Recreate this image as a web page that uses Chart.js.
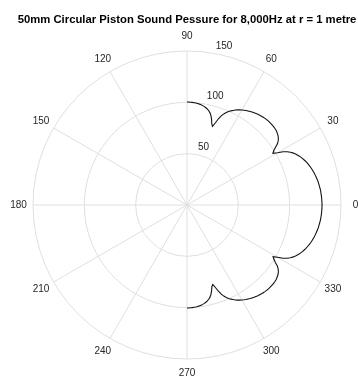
<!DOCTYPE html>
<html>
<head>
<meta charset="utf-8">
<script src="https://cdn.jsdelivr.net/npm/chart.js@4/dist/chart.umd.min.js"></script>
<style>
  html, body { margin: 0; padding: 0; background: #ffffff; }
  #wrap { width: 358px; height: 376px; }
</style>
</head>
<body>
<div id="wrap"><canvas id="c" width="358" height="376"></canvas></div>
<script>
const titleText = '50mm Circular Piston Sound Pessure for 8,000Hz at r = 1 metre';

// Sound pressure level (dB) for bearings 0°, 1°, 2° ... 90° (above the axis)
const levelUpper = [
  131.5, 131.5, 131.4, 131.3, 131.2, 131.0, 130.9, 130.6, 130.3, 130.0,
  129.7, 129.3, 128.8, 128.3, 127.8, 127.2, 126.6, 125.9, 125.1, 124.2,
  123.3, 122.3, 121.2, 120.0, 118.6, 117.1, 115.3, 113.1, 110.5, 107.0,
  101.8, 97.6, 99.6, 102.5, 106.1, 108.4, 110.0, 111.2, 112.0, 112.7,
  113.2, 113.5, 113.7, 113.9, 113.9, 113.9, 113.8, 113.7, 113.5, 113.2,
  112.9, 112.5, 112.1, 111.6, 111.1, 110.5, 109.9, 109.2, 108.5, 107.7,
  106.8, 105.9, 104.9, 103.8, 102.5, 101.2, 99.6, 97.8, 95.7, 93.0,
  89.4, 84.5, 80.5, 82.5, 86.8, 90.2, 92.5, 94.2, 95.5, 96.5,
  97.3, 98.0, 98.5, 99.0, 99.4, 99.7, 99.9, 100.1, 100.2, 100.3,
  100.3
];

// Sound pressure level (dB) for bearings -1°, -2° ... -90° (below the axis)
const levelLower = [
  131.5, 131.4, 131.3, 131.2, 131.0, 130.9, 130.6, 130.3, 130.0,
  129.7, 129.3, 128.8, 128.3, 127.8, 127.2, 126.6, 125.9, 125.1, 124.2,
  123.3, 122.3, 121.2, 120.0, 118.6, 117.1, 115.3, 113.1, 110.5, 107.0,
  101.8, 97.8, 99.8, 102.5, 106.1, 108.4, 110.0, 111.2, 112.0, 112.7,
  113.2, 113.5, 113.7, 113.9, 113.9, 113.9, 113.8, 113.7, 113.5, 113.2,
  112.9, 112.5, 112.1, 111.6, 111.1, 110.5, 109.9, 109.2, 108.5, 107.7,
  106.8, 105.9, 104.9, 103.8, 102.5, 101.2, 99.6, 97.8, 95.7, 93.0,
  89.4, 85.0, 81.5, 83.0, 86.8, 90.2, 92.5, 94.2, 95.5, 96.5,
  97.3, 98.0, 98.5, 99.0, 99.4, 99.7, 99.9, 100.1, 100.2, 100.3,
  100.3
];

const angleTickLabels = ['0', '30', '60', '90', '120', '150', '180', '210', '240', '270', '300', '330'];
const radialTicks = [50, 100, 150];
const radialMax = 150;
const radialLabelBearing = 80;

const gridColor = '#dfdfdf';
const textColor = '#262626';
const fontFamily = '"Liberation Sans", Arial, Helvetica, sans-serif';

// One radar spoke per degree; spoke 0 points up (90°) and spokes run clockwise,
// so spoke i carries the bearing 90 - i (counter-clockwise from the right).
const spokeCount = 360;
const bearingOfSpoke = i => ((90 - i) % 360 + 360) % 360;
const spokeOfBearing = b => ((90 - b) % 360 + 360) % 360;
const spokeLabels = Array.from({ length: spokeCount }, (_, i) => String(bearingOfSpoke(i)));

const levels = new Array(spokeCount).fill(null);
levelUpper.forEach((v, k) => { levels[spokeOfBearing(k)] = v; });
levelLower.forEach((v, k) => { levels[spokeOfBearing(-(k + 1))] = v; });

// Bearing labels around the rim and radius labels along the 80° spoke
const polarLabels = {
  id: 'polarLabels',
  afterDraw(chart) {
    const s = chart.scales.r;
    const ctx = chart.ctx;
    ctx.save();
    ctx.font = '10px ' + fontFamily;
    ctx.fillStyle = textColor;
    ctx.textAlign = 'center';
    ctx.textBaseline = 'middle';
    angleTickLabels.forEach(txt => {
      const p = s.getPointPosition(spokeOfBearing(Number(txt)), s.drawingArea + 14.5);
      ctx.fillText(txt, p.x, p.y);
    });
    ctx.textAlign = 'left';
    radialTicks.forEach(v => {
      const p = s.getPointPositionForValue(spokeOfBearing(radialLabelBearing), v);
      ctx.fillText(String(v), p.x + 2, p.y - 7.5);
    });
    ctx.restore();
  }
};

new Chart(document.getElementById('c'), {
  type: 'radar',
  data: {
    labels: spokeLabels,
    datasets: [{
      data: levels,
      borderColor: '#111111',
      borderWidth: 1.1,
      fill: false,
      pointRadius: 0,
      pointHoverRadius: 0,
      tension: 0,
      spanGaps: false
    }]
  },
  options: {
    responsive: false,
    devicePixelRatio: 1,
    animation: false,
    events: [],
    layout: { padding: { left: 17, right: 1, top: 0, bottom: 17 } },
    plugins: {
      legend: { display: false },
      tooltip: { enabled: false },
      title: {
        display: true,
        text: titleText,
        color: '#000000',
        font: { family: fontFamily, size: 11.3, weight: 'bold', lineHeight: '14px' },
        padding: { top: 13, bottom: 24 }
      }
    },
    scales: {
      r: {
        min: 0,
        max: radialMax,
        startAngle: 0,
        ticks: { display: false, stepSize: 50 },
        pointLabels: { display: false },
        grid: { circular: true, color: gridColor, lineWidth: 1 },
        angleLines: {
          display: true,
          color: gridColor,
          lineWidth: ctx => (bearingOfSpoke(ctx.index) % 30 === 0 ? 1 : 0)
        }
      }
    }
  },
  plugins: [polarLabels]
});
</script>
</body>
</html>
